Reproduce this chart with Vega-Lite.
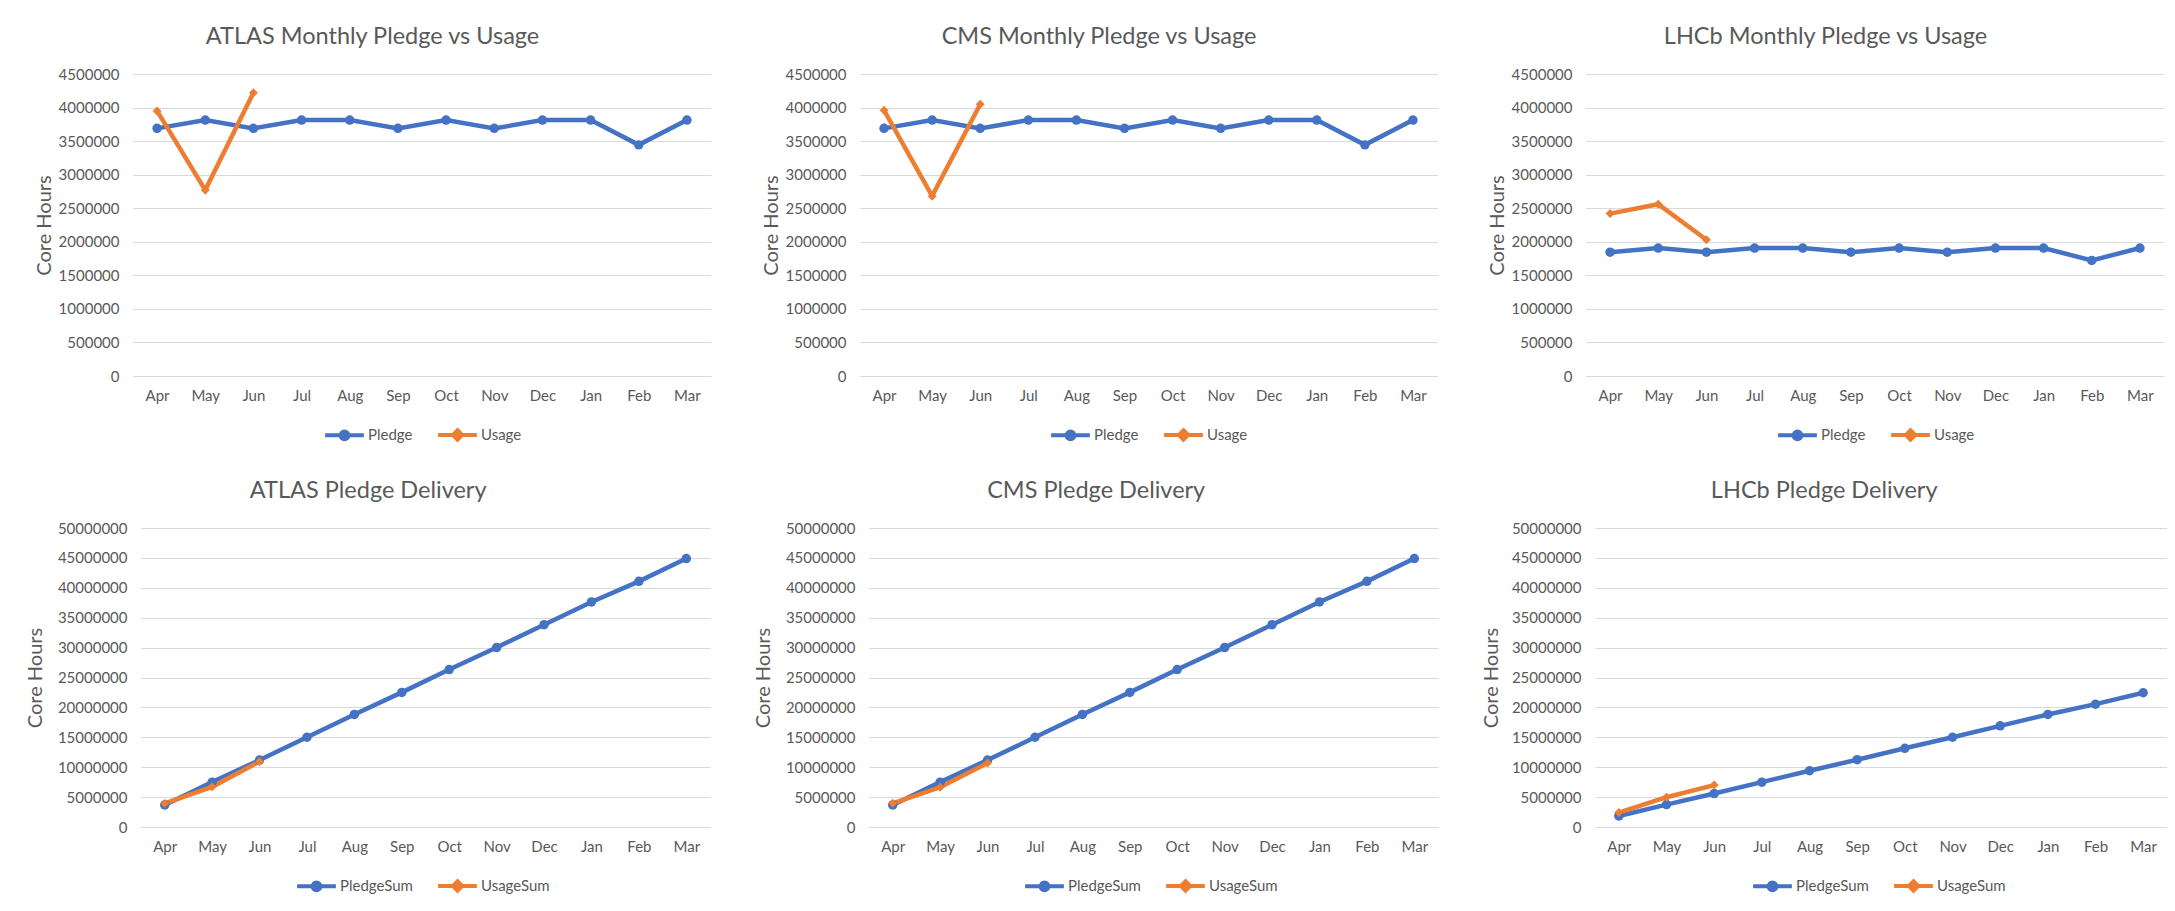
{
  "$schema": "https://vega.github.io/schema/vega-lite/v6.json",
  "padding": {"left": 25, "top": 24, "right": 0, "bottom": 0},
  "background": "white",
  "config": {
    "font": "Lato",
    "view": {"stroke": null},
    "title": {"fontSize": 23.5, "fontWeight": "normal", "color": "#595959", "anchor": "middle", "offset": 19},
    "axis": {"domain": false, "ticks": false, "labelColor": "#595959", "labelFontSize": 15, "titleColor": "#595959", "titleFontSize": 20, "titleFontWeight": "normal", "gridColor": "#D9D9D9", "gridWidth": 1},
    "axisX": {"grid": false, "labelPadding": 12, "labelAngle": 0, "title": null},
    "axisY": {"grid": true, "labelPadding": 14, "titlePadding": 4},
    "legend": {"orient": "bottom", "direction": "horizontal", "title": null, "labelFontSize": 15, "labelColor": "#595959", "symbolSize": 1500, "symbolStrokeWidth": 4, "columnPadding": 17, "labelOffset": 2, "offset": 10, "layout": {"bottom": {"anchor": "middle"}},
      "symbolType": "M-1,0L1,0M-0.2,0a0.2,0.2 0 1,0 0.4,0a0.2,0.2 0 1,0 -0.4,0"}
  },
  "datasets": {
    "atlasM": [
      {"month": "Apr", "series": "Pledge", "value": 3690000}, {"month": "May", "series": "Pledge", "value": 3813000}, {"month": "Jun", "series": "Pledge", "value": 3690000}, {"month": "Jul", "series": "Pledge", "value": 3813000}, {"month": "Aug", "series": "Pledge", "value": 3813000}, {"month": "Sep", "series": "Pledge", "value": 3690000}, {"month": "Oct", "series": "Pledge", "value": 3813000}, {"month": "Nov", "series": "Pledge", "value": 3690000}, {"month": "Dec", "series": "Pledge", "value": 3813000}, {"month": "Jan", "series": "Pledge", "value": 3813000}, {"month": "Feb", "series": "Pledge", "value": 3444000}, {"month": "Mar", "series": "Pledge", "value": 3813000},
      {"month": "Apr", "series": "Usage", "value": 3950000}, {"month": "May", "series": "Usage", "value": 2770000}, {"month": "Jun", "series": "Usage", "value": 4220000}
    ],
    "cmsM": [
      {"month": "Apr", "series": "Pledge", "value": 3690000}, {"month": "May", "series": "Pledge", "value": 3813000}, {"month": "Jun", "series": "Pledge", "value": 3690000}, {"month": "Jul", "series": "Pledge", "value": 3813000}, {"month": "Aug", "series": "Pledge", "value": 3813000}, {"month": "Sep", "series": "Pledge", "value": 3690000}, {"month": "Oct", "series": "Pledge", "value": 3813000}, {"month": "Nov", "series": "Pledge", "value": 3690000}, {"month": "Dec", "series": "Pledge", "value": 3813000}, {"month": "Jan", "series": "Pledge", "value": 3813000}, {"month": "Feb", "series": "Pledge", "value": 3444000}, {"month": "Mar", "series": "Pledge", "value": 3813000},
      {"month": "Apr", "series": "Usage", "value": 3960000}, {"month": "May", "series": "Usage", "value": 2680000}, {"month": "Jun", "series": "Usage", "value": 4050000}
    ],
    "lhcbM": [
      {"month": "Apr", "series": "Pledge", "value": 1845000}, {"month": "May", "series": "Pledge", "value": 1906500}, {"month": "Jun", "series": "Pledge", "value": 1845000}, {"month": "Jul", "series": "Pledge", "value": 1906500}, {"month": "Aug", "series": "Pledge", "value": 1906500}, {"month": "Sep", "series": "Pledge", "value": 1845000}, {"month": "Oct", "series": "Pledge", "value": 1906500}, {"month": "Nov", "series": "Pledge", "value": 1845000}, {"month": "Dec", "series": "Pledge", "value": 1906500}, {"month": "Jan", "series": "Pledge", "value": 1906500}, {"month": "Feb", "series": "Pledge", "value": 1722000}, {"month": "Mar", "series": "Pledge", "value": 1906500},
      {"month": "Apr", "series": "Usage", "value": 2420000}, {"month": "May", "series": "Usage", "value": 2560000}, {"month": "Jun", "series": "Usage", "value": 2030000}
    ],
    "atlasS": [
      {"month": "Apr", "series": "PledgeSum", "value": 3690000}, {"month": "May", "series": "PledgeSum", "value": 7503000}, {"month": "Jun", "series": "PledgeSum", "value": 11193000}, {"month": "Jul", "series": "PledgeSum", "value": 15006000}, {"month": "Aug", "series": "PledgeSum", "value": 18819000}, {"month": "Sep", "series": "PledgeSum", "value": 22509000}, {"month": "Oct", "series": "PledgeSum", "value": 26322000}, {"month": "Nov", "series": "PledgeSum", "value": 30012000}, {"month": "Dec", "series": "PledgeSum", "value": 33825000}, {"month": "Jan", "series": "PledgeSum", "value": 37638000}, {"month": "Feb", "series": "PledgeSum", "value": 41082000}, {"month": "Mar", "series": "PledgeSum", "value": 44895000},
      {"month": "Apr", "series": "UsageSum", "value": 3950000}, {"month": "May", "series": "UsageSum", "value": 6720000}, {"month": "Jun", "series": "UsageSum", "value": 10940000}
    ],
    "cmsS": [
      {"month": "Apr", "series": "PledgeSum", "value": 3690000}, {"month": "May", "series": "PledgeSum", "value": 7503000}, {"month": "Jun", "series": "PledgeSum", "value": 11193000}, {"month": "Jul", "series": "PledgeSum", "value": 15006000}, {"month": "Aug", "series": "PledgeSum", "value": 18819000}, {"month": "Sep", "series": "PledgeSum", "value": 22509000}, {"month": "Oct", "series": "PledgeSum", "value": 26322000}, {"month": "Nov", "series": "PledgeSum", "value": 30012000}, {"month": "Dec", "series": "PledgeSum", "value": 33825000}, {"month": "Jan", "series": "PledgeSum", "value": 37638000}, {"month": "Feb", "series": "PledgeSum", "value": 41082000}, {"month": "Mar", "series": "PledgeSum", "value": 44895000},
      {"month": "Apr", "series": "UsageSum", "value": 3960000}, {"month": "May", "series": "UsageSum", "value": 6640000}, {"month": "Jun", "series": "UsageSum", "value": 10690000}
    ],
    "lhcbS": [
      {"month": "Apr", "series": "PledgeSum", "value": 1845000}, {"month": "May", "series": "PledgeSum", "value": 3751500}, {"month": "Jun", "series": "PledgeSum", "value": 5596500}, {"month": "Jul", "series": "PledgeSum", "value": 7503000}, {"month": "Aug", "series": "PledgeSum", "value": 9409500}, {"month": "Sep", "series": "PledgeSum", "value": 11254500}, {"month": "Oct", "series": "PledgeSum", "value": 13161000}, {"month": "Nov", "series": "PledgeSum", "value": 15006000}, {"month": "Dec", "series": "PledgeSum", "value": 16912500}, {"month": "Jan", "series": "PledgeSum", "value": 18819000}, {"month": "Feb", "series": "PledgeSum", "value": 20541000}, {"month": "Mar", "series": "PledgeSum", "value": 22447500},
      {"month": "Apr", "series": "UsageSum", "value": 2420000}, {"month": "May", "series": "UsageSum", "value": 4980000}, {"month": "Jun", "series": "UsageSum", "value": 7010000}
    ]
  },
  "resolve": {"scale": {"color": "independent", "y": "independent", "x": "independent"}, "legend": {"color": "independent"}},
  "spacing": 30,
  "vconcat": [
    {
      "spacing": 50,
      "resolve": {"scale": {"color": "independent", "y": "independent", "x": "independent"}, "legend": {"color": "independent"}},
      "hconcat": [
        {
          "title": {"text": "ATLAS Monthly Pledge vs Usage", "frame": "bounds"},
          "width": 578, "height": 302,
          "data": {"name": "atlasM"},
          "encoding": {
            "x": {"field": "month", "type": "ordinal", "sort": ["Apr","May","Jun","Jul","Aug","Sep","Oct","Nov","Dec","Jan","Feb","Mar"]},
            "y": {"field": "value", "type": "quantitative", "scale": {"domain": [0, 4500000], "nice": false}, "axis": {"title": "Core Hours", "values": [0,500000,1000000,1500000,2000000,2500000,3000000,3500000,4000000,4500000], "format": "d"}},
            "color": {"field": "series", "type": "nominal", "scale": {"domain": ["Pledge","Usage"], "range": ["#4472C4","#ED7D31"]},
              "legend": {"encode": {"symbols": {"update": {"shape": {"signal": "datum.value == 'Usage' ? 'M-1,0L1,0M0,-0.24L0.24,0L0,0.24L-0.24,0Z' : 'M-1,0L1,0M-0.2,0a0.2,0.2 0 1,0 0.4,0a0.2,0.2 0 1,0 -0.4,0'"}}}}}}
          },
          "layer": [
            {"mark": {"type": "line", "strokeWidth": 4.5}},
            {"transform": [{"filter": "datum.series == 'Pledge'"}], "mark": {"type": "point", "shape": "circle", "filled": true, "size": 90, "opacity": 1}},
            {"transform": [{"filter": "datum.series == 'Usage'"}], "mark": {"type": "point", "shape": "diamond", "filled": true, "size": 80, "opacity": 1}}
          ]
        },
        {
          "title": {"text": "CMS Monthly Pledge vs Usage", "frame": "bounds"},
          "width": 577, "height": 302,
          "data": {"name": "cmsM"},
          "encoding": {
            "x": {"field": "month", "type": "ordinal", "sort": ["Apr","May","Jun","Jul","Aug","Sep","Oct","Nov","Dec","Jan","Feb","Mar"]},
            "y": {"field": "value", "type": "quantitative", "scale": {"domain": [0, 4500000], "nice": false}, "axis": {"title": "Core Hours", "values": [0,500000,1000000,1500000,2000000,2500000,3000000,3500000,4000000,4500000], "format": "d"}},
            "color": {"field": "series", "type": "nominal", "scale": {"domain": ["Pledge","Usage"], "range": ["#4472C4","#ED7D31"]},
              "legend": {"encode": {"symbols": {"update": {"shape": {"signal": "datum.value == 'Usage' ? 'M-1,0L1,0M0,-0.24L0.24,0L0,0.24L-0.24,0Z' : 'M-1,0L1,0M-0.2,0a0.2,0.2 0 1,0 0.4,0a0.2,0.2 0 1,0 -0.4,0'"}}}}}}
          },
          "layer": [
            {"mark": {"type": "line", "strokeWidth": 4.5}},
            {"transform": [{"filter": "datum.series == 'Pledge'"}], "mark": {"type": "point", "shape": "circle", "filled": true, "size": 90, "opacity": 1}},
            {"transform": [{"filter": "datum.series == 'Usage'"}], "mark": {"type": "point", "shape": "diamond", "filled": true, "size": 80, "opacity": 1}}
          ]
        },
        {
          "title": {"text": "LHCb Monthly Pledge vs Usage", "frame": "bounds"},
          "width": 578, "height": 302,
          "data": {"name": "lhcbM"},
          "encoding": {
            "x": {"field": "month", "type": "ordinal", "sort": ["Apr","May","Jun","Jul","Aug","Sep","Oct","Nov","Dec","Jan","Feb","Mar"]},
            "y": {"field": "value", "type": "quantitative", "scale": {"domain": [0, 4500000], "nice": false}, "axis": {"title": "Core Hours", "values": [0,500000,1000000,1500000,2000000,2500000,3000000,3500000,4000000,4500000], "format": "d"}},
            "color": {"field": "series", "type": "nominal", "scale": {"domain": ["Pledge","Usage"], "range": ["#4472C4","#ED7D31"]},
              "legend": {"encode": {"symbols": {"update": {"shape": {"signal": "datum.value == 'Usage' ? 'M-1,0L1,0M0,-0.24L0.24,0L0,0.24L-0.24,0Z' : 'M-1,0L1,0M-0.2,0a0.2,0.2 0 1,0 0.4,0a0.2,0.2 0 1,0 -0.4,0'"}}}}}}
          },
          "layer": [
            {"mark": {"type": "line", "strokeWidth": 4.5}},
            {"transform": [{"filter": "datum.series == 'Pledge'"}], "mark": {"type": "point", "shape": "circle", "filled": true, "size": 90, "opacity": 1}},
            {"transform": [{"filter": "datum.series == 'Usage'"}], "mark": {"type": "point", "shape": "diamond", "filled": true, "size": 80, "opacity": 1}}
          ]
        }
      ]
    },
    {
      "spacing": 42,
      "resolve": {"scale": {"color": "independent", "y": "independent", "x": "independent"}, "legend": {"color": "independent"}},
      "hconcat": [
        {
          "title": {"text": "ATLAS Pledge Delivery", "frame": "bounds"},
          "width": 578, "height": 299,
          "data": {"name": "atlasS"},
          "encoding": {
            "x": {"field": "month", "type": "ordinal", "sort": ["Apr","May","Jun","Jul","Aug","Sep","Oct","Nov","Dec","Jan","Feb","Mar"], "scale": {"range": [8, 577]}},
            "y": {"field": "value", "type": "quantitative", "scale": {"domain": [0, 50000000], "nice": false}, "axis": {"title": "Core Hours", "offset": -8, "titlePadding": 12, "values": [0,5000000,10000000,15000000,20000000,25000000,30000000,35000000,40000000,45000000,50000000], "format": "d"}},
            "color": {"field": "series", "type": "nominal", "scale": {"domain": ["PledgeSum","UsageSum"], "range": ["#4472C4","#ED7D31"]},
              "legend": {"encode": {"symbols": {"update": {"shape": {"signal": "datum.value == 'UsageSum' ? 'M-1,0L1,0M0,-0.24L0.24,0L0,0.24L-0.24,0Z' : 'M-1,0L1,0M-0.2,0a0.2,0.2 0 1,0 0.4,0a0.2,0.2 0 1,0 -0.4,0'"}}}}}}
          },
          "layer": [
            {"mark": {"type": "line", "strokeWidth": 4.5}},
            {"transform": [{"filter": "datum.series == 'PledgeSum'"}], "mark": {"type": "point", "shape": "circle", "filled": true, "size": 90, "opacity": 1}},
            {"transform": [{"filter": "datum.series == 'UsageSum'"}], "mark": {"type": "point", "shape": "diamond", "filled": true, "size": 80, "opacity": 1}}
          ]
        },
        {
          "title": {"text": "CMS Pledge Delivery", "frame": "bounds"},
          "width": 578, "height": 299,
          "data": {"name": "cmsS"},
          "encoding": {
            "x": {"field": "month", "type": "ordinal", "sort": ["Apr","May","Jun","Jul","Aug","Sep","Oct","Nov","Dec","Jan","Feb","Mar"], "scale": {"range": [8, 577]}},
            "y": {"field": "value", "type": "quantitative", "scale": {"domain": [0, 50000000], "nice": false}, "axis": {"title": "Core Hours", "offset": -8, "titlePadding": 12, "values": [0,5000000,10000000,15000000,20000000,25000000,30000000,35000000,40000000,45000000,50000000], "format": "d"}},
            "color": {"field": "series", "type": "nominal", "scale": {"domain": ["PledgeSum","UsageSum"], "range": ["#4472C4","#ED7D31"]},
              "legend": {"encode": {"symbols": {"update": {"shape": {"signal": "datum.value == 'UsageSum' ? 'M-1,0L1,0M0,-0.24L0.24,0L0,0.24L-0.24,0Z' : 'M-1,0L1,0M-0.2,0a0.2,0.2 0 1,0 0.4,0a0.2,0.2 0 1,0 -0.4,0'"}}}}}}
          },
          "layer": [
            {"mark": {"type": "line", "strokeWidth": 4.5}},
            {"transform": [{"filter": "datum.series == 'PledgeSum'"}], "mark": {"type": "point", "shape": "circle", "filled": true, "size": 90, "opacity": 1}},
            {"transform": [{"filter": "datum.series == 'UsageSum'"}], "mark": {"type": "point", "shape": "diamond", "filled": true, "size": 80, "opacity": 1}}
          ]
        },
        {
          "title": {"text": "LHCb Pledge Delivery", "frame": "bounds"},
          "width": 578, "height": 299,
          "data": {"name": "lhcbS"},
          "encoding": {
            "x": {"field": "month", "type": "ordinal", "sort": ["Apr","May","Jun","Jul","Aug","Sep","Oct","Nov","Dec","Jan","Feb","Mar"], "scale": {"range": [6, 578]}},
            "y": {"field": "value", "type": "quantitative", "scale": {"domain": [0, 50000000], "nice": false}, "axis": {"title": "Core Hours", "offset": -6, "titlePadding": 10, "values": [0,5000000,10000000,15000000,20000000,25000000,30000000,35000000,40000000,45000000,50000000], "format": "d"}},
            "color": {"field": "series", "type": "nominal", "scale": {"domain": ["PledgeSum","UsageSum"], "range": ["#4472C4","#ED7D31"]},
              "legend": {"encode": {"symbols": {"update": {"shape": {"signal": "datum.value == 'UsageSum' ? 'M-1,0L1,0M0,-0.24L0.24,0L0,0.24L-0.24,0Z' : 'M-1,0L1,0M-0.2,0a0.2,0.2 0 1,0 0.4,0a0.2,0.2 0 1,0 -0.4,0'"}}}}}}
          },
          "layer": [
            {"mark": {"type": "line", "strokeWidth": 4.5}},
            {"transform": [{"filter": "datum.series == 'PledgeSum'"}], "mark": {"type": "point", "shape": "circle", "filled": true, "size": 90, "opacity": 1}},
            {"transform": [{"filter": "datum.series == 'UsageSum'"}], "mark": {"type": "point", "shape": "diamond", "filled": true, "size": 80, "opacity": 1}}
          ]
        }
      ]
    }
  ]
}
